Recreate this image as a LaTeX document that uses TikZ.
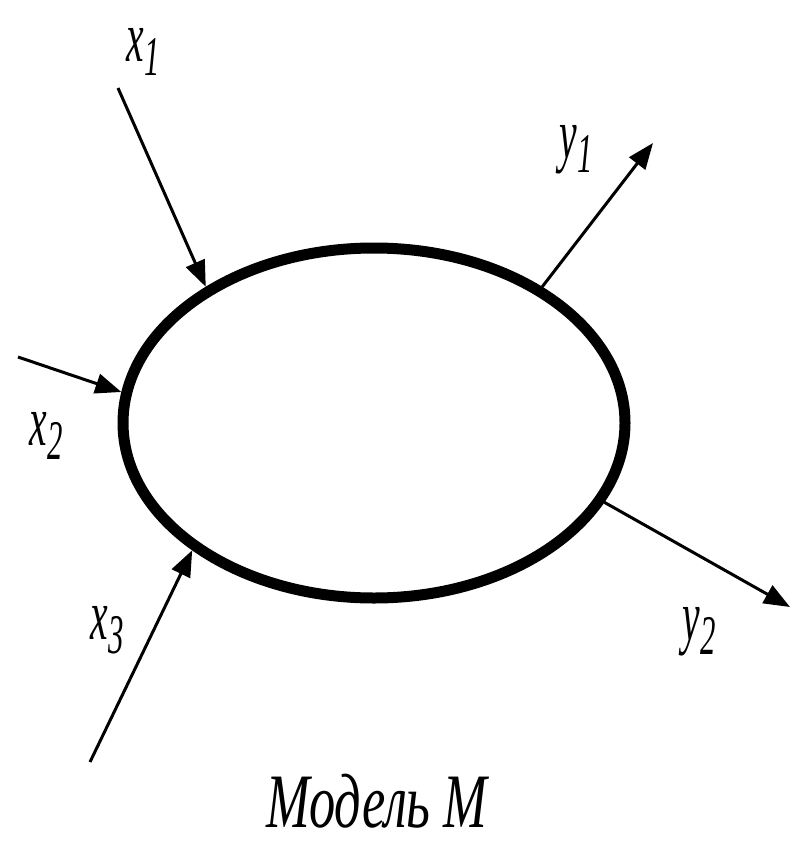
\documentclass[tikz,border=0pt]{standalone}
\usepackage{fontspec}
\setmainfont{Liberation Serif}
\usetikzlibrary{shapes.geometric,arrows.meta}
\newcommand\lowsub[1]{\raisebox{-14pt}{\fontsize{56}{56}\selectfont #1}}
\begin{document}
\begin{tikzpicture}[x=1pt,y=-1pt,
  model/.style={draw, ellipse, line width=11pt, minimum width=502pt, minimum height=350pt, inner sep=0pt},
  flow/.style={line width=3pt, -{Triangle[length=26pt,width=20pt]}},
  lbl/.style={font=\fontsize{72}{72}\selectfont\itshape, inner sep=0pt, xscale=0.55},
  captiontext/.style={font=\fontsize{77}{77}\selectfont\itshape, inner sep=0pt, xscale=0.68, text depth=0pt, anchor=base}]
\useasboundingbox (0,0) rectangle (792,842);
\node[model] (M) at (374,423) {};
\coordinate (c1) at (118,88);
\coordinate (c2) at (18,357);
\coordinate (c3) at (90,762);
\coordinate (e1) at (653,143);
\coordinate (e2) at (790,607);
\draw[flow] (c1) -- (M.141);
\draw[flow] (c2) -- (M.173.9);
\draw[flow] (c3) -- (M.215.2);
\draw[flow] (M.39.3) -- (e1);
\draw[flow] (M.-19.4) -- (e2);
\node[lbl] (lx1) at (143,52) {x\lowsub{1}};
\node[lbl] (lx2) at (46,436) {x\lowsub{2}};
\node[lbl] (lx3) at (107,630) {x\lowsub{3}};
\node[lbl] (ly1) at (576,150) {y\lowsub{1}};
\node[lbl] (ly2) at (699,632) {y\lowsub{2}};
\node[captiontext] (title) at (377,827) {Модель M};
\end{tikzpicture}
\end{document}
